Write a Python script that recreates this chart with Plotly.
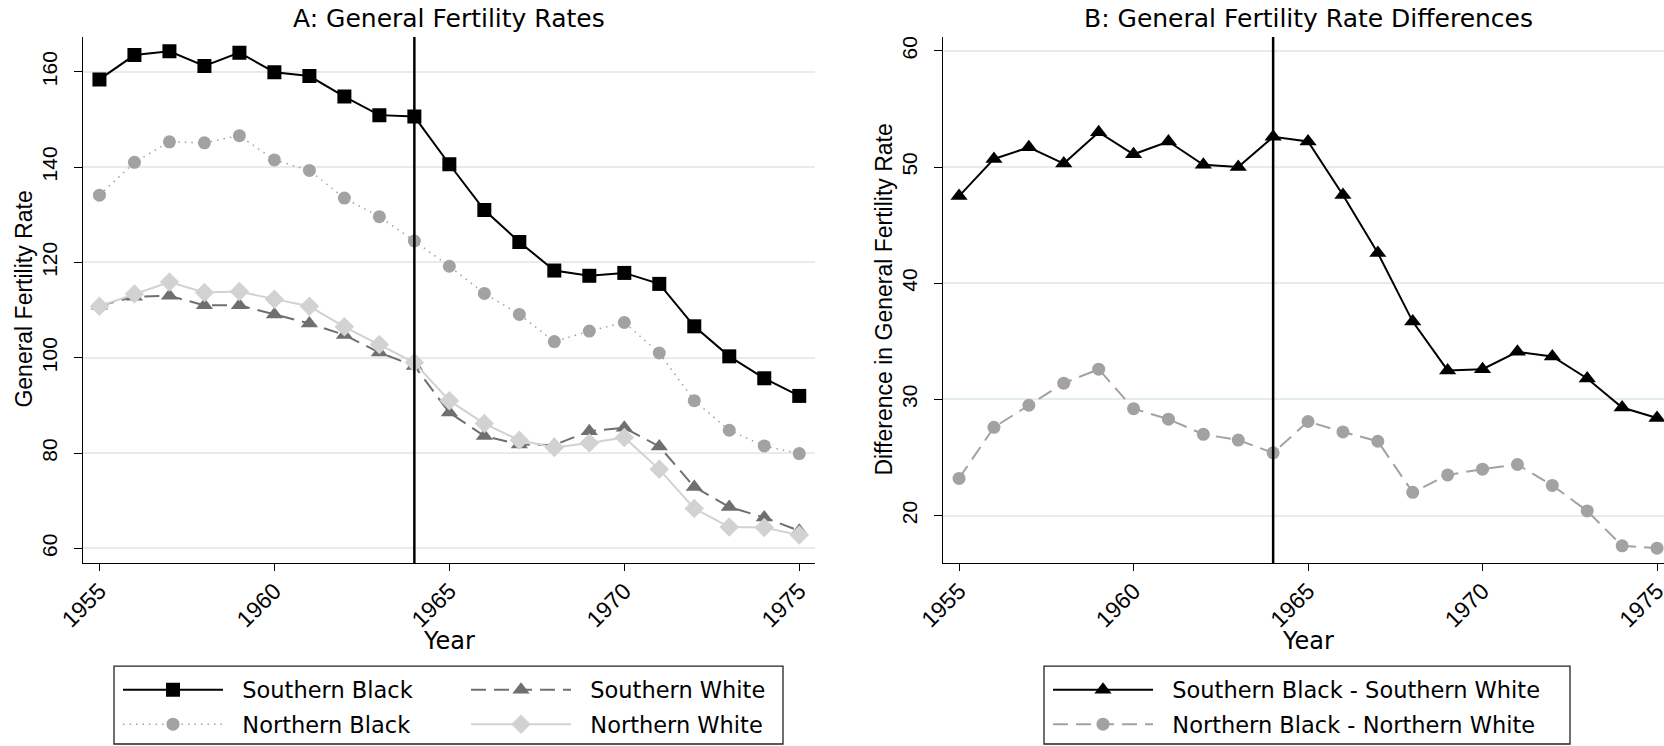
import plotly.graph_objects as go

# ---------------- data ----------------
years = list(range(1955, 1976))
southern_black = [158.4, 163.5, 164.3, 161.2, 164.0, 159.9, 159.1, 154.8, 150.9, 150.6,
                  140.6, 131.0, 124.3, 118.3, 117.2, 117.8, 115.5, 106.6, 100.3, 95.7, 92.0]
northern_black = [134.1, 141.0, 145.3, 145.1, 146.6, 141.5, 139.3, 133.5, 129.6, 124.5,
                  119.2, 113.5, 109.1, 103.4, 105.6, 107.4, 101.0, 91.0, 84.8, 81.5, 79.9]
southern_white = [110.9, 112.8, 113.0, 111.0, 111.0, 109.1, 107.2, 104.8, 101.1, 98.3,
                  88.5, 83.6, 81.8, 81.7, 84.6, 85.3, 81.4, 72.9, 68.7, 66.5, 63.7]
northern_white = [110.8, 113.4, 115.9, 113.7, 113.9, 112.3, 110.8, 106.5, 102.8, 99.0,
                  91.0, 86.2, 82.7, 81.2, 82.1, 83.3, 76.6, 68.4, 64.5, 64.4, 62.8]
diff_south = [47.5, 50.7, 51.7, 50.3, 53.0, 51.1, 52.2, 50.2, 50.0, 52.6,
              52.2, 47.6, 42.6, 36.7, 32.5, 32.6, 34.1, 33.7, 31.8, 29.3, 28.4]
diff_north = [23.2, 27.6, 29.5, 31.4, 32.6, 29.2, 28.3, 27.0, 26.5, 25.4,
              28.1, 27.2, 26.4, 22.0, 23.5, 24.0, 24.4, 22.6, 20.4, 17.4, 17.2]
vline_year = 1964
x_ticks = [1955, 1960, 1965, 1970, 1975]
left_y_ticks = [60, 80, 100, 120, 140, 160]
right_y_ticks = [20, 30, 40, 50, 60]

W, H = 1664, 746
HFONT = "DejaVu Sans"
VFONT = "Liberation Sans"
SP = "\u00a0\u00a0"  # gap between legend key and label


def px(v):
    return v / W


def py(v):
    return 1 - v / H


fig = go.Figure()

fig.add_trace(go.Scatter(x=years, y=southern_black, name=SP + "Southern Black", mode="lines+markers",
                         line=dict(color="black", width=2),
                         marker=dict(symbol="square", size=14, color="black"),
                         xaxis="x", yaxis="y", legend="legend"))
fig.add_trace(go.Scatter(x=years, y=northern_black, name=SP + "Northern Black", mode="lines+markers",
                         line=dict(color="#a2a2a2", width=1.5, dash="1.5px,5px"),
                         marker=dict(symbol="circle", size=13, color="#a2a2a2"),
                         xaxis="x", yaxis="y", legend="legend2"))
fig.add_trace(go.Scatter(x=years, y=southern_white, name=SP + "Southern White", mode="lines+markers",
                         line=dict(color="#6f6f6f", width=2, dash="15px,8px"),
                         marker=dict(symbol="triangle-up", size=15, color="#6f6f6f"),
                         xaxis="x", yaxis="y", legend="legend3"))
fig.add_trace(go.Scatter(x=years, y=northern_white, name=SP + "Northern White", mode="lines+markers",
                         line=dict(color="#d2d2d2", width=2),
                         marker=dict(symbol="diamond", size=15, color="#d2d2d2"),
                         xaxis="x", yaxis="y", legend="legend4"))
fig.add_trace(go.Scatter(x=years, y=diff_south, name=SP + "Southern Black - Southern White", mode="lines+markers",
                         line=dict(color="black", width=2),
                         marker=dict(symbol="triangle-up", size=15, color="black"),
                         xaxis="x2", yaxis="y2", legend="legend5"))
fig.add_trace(go.Scatter(x=years, y=diff_north, name=SP + "Northern Black - Northern White", mode="lines+markers",
                         line=dict(color="#a2a2a2", width=2, dash="15px,8px"),
                         marker=dict(symbol="circle", size=13, color="#a2a2a2"),
                         xaxis="x2", yaxis="y2", legend="legend6"))

ydom = [py(564), py(37)]
common_x = dict(tickmode="array", tickvals=x_ticks, tickangle=-45,
                tickfont=dict(family=VFONT, size=23, color="black"),
                showline=True, linecolor="black", linewidth=1.3,
                ticks="outside", ticklen=7, tickwidth=1.3, tickcolor="black",
                ticklabeloverflow="allow", ticklabelstandoff=-3,
                showgrid=False, zeroline=False, automargin=False)
common_y = dict(tickangle=-90, tickfont=dict(family=VFONT, size=21, color="black"),
                showline=True, linecolor="black", linewidth=1.3,
                ticks="outside", ticklen=8, tickwidth=1.3, tickcolor="black",
                showgrid=True, gridcolor="#e3eded", gridwidth=2,
                zeroline=False, automargin=False, ticklabelstandoff=8)

legend_common = dict(bgcolor="rgba(0,0,0,0)", borderwidth=0, itemwidth=100,
                     font=dict(family=HFONT, size=22.5, color="black"),
                     xanchor="left", yanchor="middle", itemclick=False, itemdoubleclick=False)

fig.update_layout(
    width=W, height=H,
    margin=dict(l=0, r=0, t=0, b=0),
    paper_bgcolor="white", plot_bgcolor="white",
    xaxis=dict(domain=[px(83), px(815)], range=[1954.53, 1975.45], anchor="y", **common_x),
    yaxis=dict(domain=ydom, range=[56.9, 167.3], tickvals=left_y_ticks, anchor="x", **common_y),
    xaxis2=dict(domain=[px(943), 1.0], range=[1954.54, 1975.2], anchor="y2", **common_x),
    yaxis2=dict(domain=ydom, range=[15.9, 61.2], tickvals=right_y_ticks, anchor="x2", **common_y),
    legend=dict(x=px(118), y=py(690), **legend_common),
    legend2=dict(x=px(118), y=py(725), **legend_common),
    legend3=dict(x=px(466), y=py(690), **legend_common),
    legend4=dict(x=px(466), y=py(725), **legend_common),
    legend5=dict(x=px(1048), y=py(690), **legend_common),
    legend6=dict(x=px(1048), y=py(725), **legend_common),
    showlegend=True,
)

# vertical reference lines at 1964
for xr, yr in (("x", "y domain"), ("x2", "y2 domain")):
    fig.add_shape(type="line", xref=xr, yref=yr, x0=vline_year, x1=vline_year, y0=0, y1=1,
                  line=dict(color="black", width=2.5))

# legend boxes
fig.add_shape(type="rect", xref="paper", yref="paper", x0=px(114), x1=px(783), y0=py(745), y1=py(667),
              line=dict(color="#222222", width=1.3), fillcolor="rgba(0,0,0,0)")
fig.add_shape(type="rect", xref="paper", yref="paper", x0=px(1044), x1=px(1570), y0=py(745), y1=py(667),
              line=dict(color="#222222", width=1.3), fillcolor="rgba(0,0,0,0)")

# titles
fig.add_annotation(text="A: General Fertility Rates", xref="paper", yref="paper", x=px(449), y=py(19),
                   showarrow=False, xanchor="center", yanchor="middle",
                   font=dict(family=HFONT, size=25, color="black"))
fig.add_annotation(text="B: General Fertility Rate Differences", xref="paper", yref="paper", x=px(1308), y=py(19),
                   showarrow=False, xanchor="center", yanchor="middle",
                   font=dict(family=HFONT, size=25, color="black"))
# x-axis titles
for xc in (449, 1308):
    fig.add_annotation(text="Year", xref="paper", yref="paper", x=px(xc), y=py(642),
                       showarrow=False, xanchor="center", yanchor="middle",
                       font=dict(family=HFONT, size=24, color="black"))
# y-axis titles
fig.add_annotation(text="General Fertility Rate", xref="paper", yref="paper", x=px(24), y=py(300),
                   showarrow=False, xanchor="center", yanchor="middle", textangle=-90,
                   font=dict(family=VFONT, size=23, color="black"))
fig.add_annotation(text="Difference in General Fertility Rate", xref="paper", yref="paper", x=px(884), y=py(300),
                   showarrow=False, xanchor="center", yanchor="middle", textangle=-90,
                   font=dict(family=VFONT, size=23, color="black"))

fig.write_html("out.html",
               config={"displayModeBar": False},
               post_script="document.body.style.margin='0';document.body.style.padding='0';"
                           "document.body.style.overflow='hidden';")
